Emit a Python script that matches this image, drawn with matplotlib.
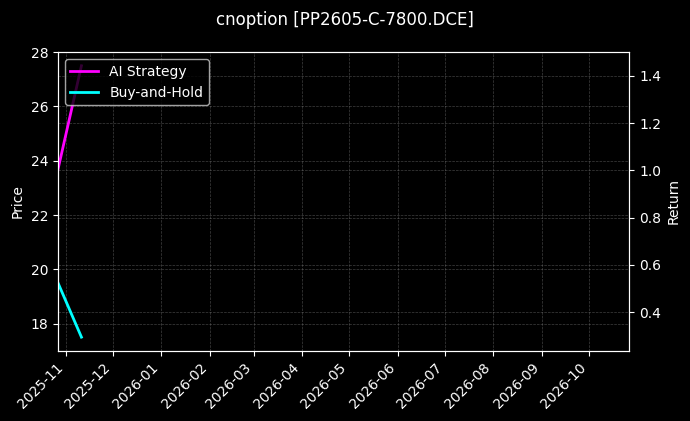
import matplotlib
matplotlib.use("Agg")
import matplotlib.pyplot as plt
import matplotlib.dates as mdates
import pandas as pd

plt.style.use("dark_background")

dates = pd.to_datetime(["2025-10-27", "2025-11-11"])
ai_strategy = [1.004, 1.443]
buy_hold = [0.524, 0.294]
price_ylim = (17.0, 28.0)
x_range = pd.to_datetime(["2025-10-27", "2026-10-27"])
title = "cnoption [PP2605-C-7800.DCE]"

fig, ax1 = plt.subplots(figsize=(6.9, 4.21), dpi=100)
ax1.set_ylim(*price_ylim)
ax1.set_ylabel("Price")
ax1.grid(True, linestyle="--", linewidth=0.5, color="gray", alpha=0.5)

ax2 = ax1.twinx()
ax2.plot(dates, ai_strategy, color="#ff00ff", linewidth=2, label="AI Strategy")
ax2.plot(dates, buy_hold, color="#00ffff", linewidth=2, label="Buy-and-Hold")
ax2.set_ylabel("Return")
ax2.grid(True, linestyle="--", linewidth=0.5, color="gray", alpha=0.5)

ax1.set_xlim(x_range[0], x_range[1])
ax1.xaxis.set_major_locator(mdates.MonthLocator())
ax1.xaxis.set_major_formatter(mdates.DateFormatter("%Y-%m"))
plt.setp(ax1.get_xticklabels(), rotation=45, ha="right")

ax2.legend(loc="upper left")
fig.suptitle(title, fontsize=12, y=0.975)
fig.subplots_adjust(left=0.084, right=0.912, top=0.876, bottom=0.167)
fig.savefig("out.png", dpi=100)
